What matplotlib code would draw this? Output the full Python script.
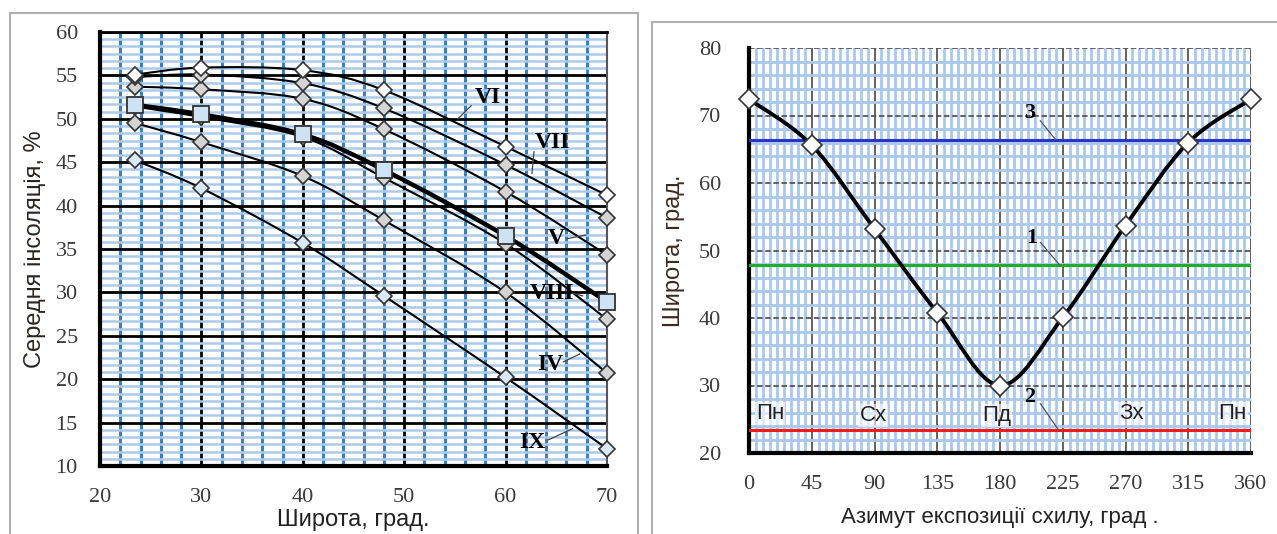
import matplotlib
matplotlib.use('Agg')
import matplotlib.pyplot as plt
import numpy as np
from matplotlib.path import Path
from matplotlib.patches import PathPatch, Rectangle
from matplotlib.ticker import MultipleLocator

# ---- left chart: mean insolation vs latitude ----
lat = [23.5, 30, 40, 48, 60, 70]
m_VI = [55.1, 55.9, 55.6, 53.3, 46.8, 41.2]
m_VII = [54.8, 55.1, 54.1, 51.2, 44.7, 38.6]
m_V = [53.7, 53.4, 52.3, 48.8, 41.6, 34.3]
m_avg = [51.6, 50.5, 48.2, 44.1, 36.5, 28.9]
m_VIII = [51.4, 50.2, 47.9, 43.2, 35.6, 26.9]
m_IV = [49.5, 47.3, 43.4, 38.3, 30.0, 20.7]
m_IX = [45.2, 42.0, 35.7, 29.6, 20.2, 12.0]

# label text, text pos, leader start, leader end
month_labels = [
    ('VI', (58.2, 52.4), (56.6, 51.5), (55.3, 50.0)),
    ('VII', (64.6, 47.3), (62.8, 46.2), (62.6, 43.7)),
    ('V', (65.0, 36.2), (66.1, 36.2), (67.9, 36.6)),
    ('VIII', (64.6, 29.9), (66.6, 29.9), (67.6, 29.6)),
    ('IV', (64.4, 21.7), (65.7, 22.0), (67.3, 22.9)),
    ('IX', (62.6, 12.7), (64.2, 13.0), (66.6, 14.3)),
]

# ---- right chart: latitude vs slope azimuth ----
azimuth = [0, 45, 90, 135, 180, 225, 270, 315, 360]
lat_curve = [72.4, 65.6, 53.2, 40.8, 30.0, 40.1, 53.7, 66.0, 72.4]
line_levels = [47.8, 23.4, 66.4]   # 1, 2, 3
line_colors = ['#1fae2a', '#ee1c1c', '#2a35c8']
line_names = ['1', '2', '3']
name_pos = [(203, 51.8), (201, 28.3), (201, 70.4)]
leader_from = [(209, 51.2), (209, 27.3), (209, 69.2)]
leader_to = [(223, 47.8), (222, 23.4), (220, 66.4)]
directions = ['Пн', 'Сх', 'Пд', 'Зх', 'Пн']
dir_x = [15, 89, 177.5, 274, 347]
dir_y = [25.8, 25.5, 25.5, 25.8, 25.8]


def smooth(ax, x, y, **kw):
    # Excel-like smoothed line through the points (Catmull-Rom as Bezier)
    p = np.column_stack([x, y]).astype(float)
    n = len(p)
    verts = [p[0]]
    codes = [Path.MOVETO]
    for i in range(n - 1):
        p0 = p[max(i - 1, 0)]
        p1 = p[i]
        p2 = p[i + 1]
        p3 = p[min(i + 2, n - 1)]
        verts += [p1 + (p2 - p0) / 6, p2 - (p3 - p1) / 6, p2]
        codes += [Path.CURVE4] * 3
    ax.add_patch(PathPatch(Path(verts, codes), fill=False, **kw))


serif = 'Liberation Serif'
sans = 'Liberation Sans'
tick_col = '#3a3a3a'

fig = plt.figure(figsize=(12.77, 5.34), dpi=100)

# panel frames
fig.add_artist(Rectangle((10 / 1277, -0.05), 628 / 1277, 1 - 13 / 534 + 0.05,
                         transform=fig.transFigure, fill=False, ec='#b0b0b0', lw=1.5))
fig.add_artist(Rectangle((652 / 1277, -0.05), 0.5, 1 - 22 / 534 + 0.05,
                         transform=fig.transFigure, fill=False, ec='#b0b0b0', lw=1.5))

# ================= left =================
ax = fig.add_axes([100 / 1277, 1 - 466 / 534, 507 / 1277, 434 / 534])
ax.set_xlim(20, 70)
ax.set_ylim(10, 60)
ax.xaxis.set_major_locator(MultipleLocator(10))
ax.yaxis.set_major_locator(MultipleLocator(5))
ax.xaxis.set_minor_locator(MultipleLocator(2))
ax.yaxis.set_minor_locator(MultipleLocator(5 / 6))
ax.xaxis.grid(True, which='minor', color='#3d7fbe', lw=2.2)
ax.yaxis.grid(True, which='minor', color='#abcaea', lw=1.8)
ax.grid(True, which='major', color='black', lw=2.0)
ax.set_axisbelow(True)
for s in ['left', 'bottom']:
    ax.spines[s].set_linewidth(3)
ax.spines['top'].set_linewidth(2)
ax.spines['right'].set_color('#555555')
ax.spines['right'].set_linewidth(1.5)
ax.tick_params(which='both', length=0)
ax.tick_params(axis='both', pad=16, labelsize=16, labelcolor=tick_col)
for t in ax.get_xticklabels() + ax.get_yticklabels():
    t.set_family(serif)
ax.set_xlabel('Широта, град.', family=sans, fontsize=17, color='#222222', labelpad=1)
ax.set_ylabel('Середня інсоляція, %', family=sans, fontsize=17, color='#2a2520', labelpad=7)

thin = dict(ec='black', lw=1.5, zorder=3)
smooth(ax, lat, m_IX, **thin)
smooth(ax, lat, m_IV, **thin)
smooth(ax, lat, m_VIII, **thin)
smooth(ax, lat, m_V, **thin)
smooth(ax, lat, m_VII, **thin)
smooth(ax, lat, m_VI, **thin)
smooth(ax, lat, m_avg, ec='black', lw=3.2, zorder=4)

dk = dict(ls='none', marker='D', ms=8, mec='#333333', mew=1.2, zorder=5, clip_on=False)
ax.plot(lat, m_IX, mfc='#dbe9f7', **dk)
ax.plot(lat, m_IV, mfc='#d4d4d4', **dk)
ax.plot(lat, m_VIII, mfc='#d4d4d4', **dk)
ax.plot(lat, m_V, mfc='#d4d4d4', **dk)
ax.plot(lat, m_VII, mfc='#d4d4d4', **dk)
ax.plot(lat, m_VI, mfc='white', **dk)
ax.plot(lat, m_avg, ls='none', marker='s', ms=12, mfc='#cfe2f3', mec='#333333',
        mew=1.3, zorder=6, clip_on=False)

for name, tp, a, b in month_labels:
    ax.text(tp[0], tp[1], name, family=serif, fontweight='bold', fontsize=17,
            ha='center', va='center', zorder=7)
    ax.plot([a[0], b[0]], [a[1], b[1]], color='#444444', lw=0.9, zorder=7)

# ================= right =================
bx = fig.add_axes([749 / 1277, 1 - 453 / 534, 502 / 1277, 405 / 534])
bx.set_xlim(0, 360)
bx.set_ylim(20, 80)
bx.xaxis.set_major_locator(MultipleLocator(45))
bx.yaxis.set_major_locator(MultipleLocator(10))
bx.xaxis.set_minor_locator(MultipleLocator(5))
bx.yaxis.set_minor_locator(MultipleLocator(2))
bx.grid(True, which='minor', color='#a9c8ec', lw=2.0)
bx.xaxis.grid(True, which='major', color='#555555', lw=1.3)
bx.yaxis.grid(True, which='major', color='#555555', lw=1.3, ls=(0, (3, 1.5)))
bx.set_axisbelow(True)
bx.spines['left'].set_linewidth(3)
bx.spines['bottom'].set_linewidth(3)
bx.spines['top'].set_visible(False)
bx.spines['right'].set_visible(False)
bx.tick_params(which='both', length=0)
bx.tick_params(axis='x', pad=16, labelsize=16, labelcolor=tick_col)
bx.tick_params(axis='y', pad=20, labelsize=16, labelcolor=tick_col)
for t in bx.get_xticklabels() + bx.get_yticklabels():
    t.set_family(serif)
bx.set_xlabel('Азимут експозиції схилу, град .', family=sans, fontsize=16,
              color='#222222', labelpad=9)
bx.set_ylabel('Широта, град.', family=sans, fontsize=17, color='#3a2a22', labelpad=10)

for lvl, c in zip(line_levels, line_colors):
    bx.axhline(lvl, color=c, lw=2.2, zorder=3)

smooth(bx, azimuth, lat_curve, ec='black', lw=2.8, zorder=4)
bx.plot(azimuth, lat_curve, ls='none', marker='D', ms=10, mfc='white', mec='#333333',
        mew=1.2, zorder=5, clip_on=False)

for name, tp, a, b in zip(line_names, name_pos, leader_from, leader_to):
    bx.text(tp[0], tp[1], name, family=serif, fontweight='bold', fontsize=16,
            ha='center', va='center', zorder=6)
    bx.plot([a[0], b[0]], [a[1], b[1]], color='#555555', lw=0.9, zorder=6)

for d, x, y in zip(directions, dir_x, dir_y):
    bx.text(x, y, d, family=sans, fontsize=16, color='#222222', ha='center', va='center',
            zorder=6, bbox=dict(boxstyle='square,pad=0.05', fc='white', ec='none', alpha=0.6))

fig.savefig('out.png', dpi=100)
